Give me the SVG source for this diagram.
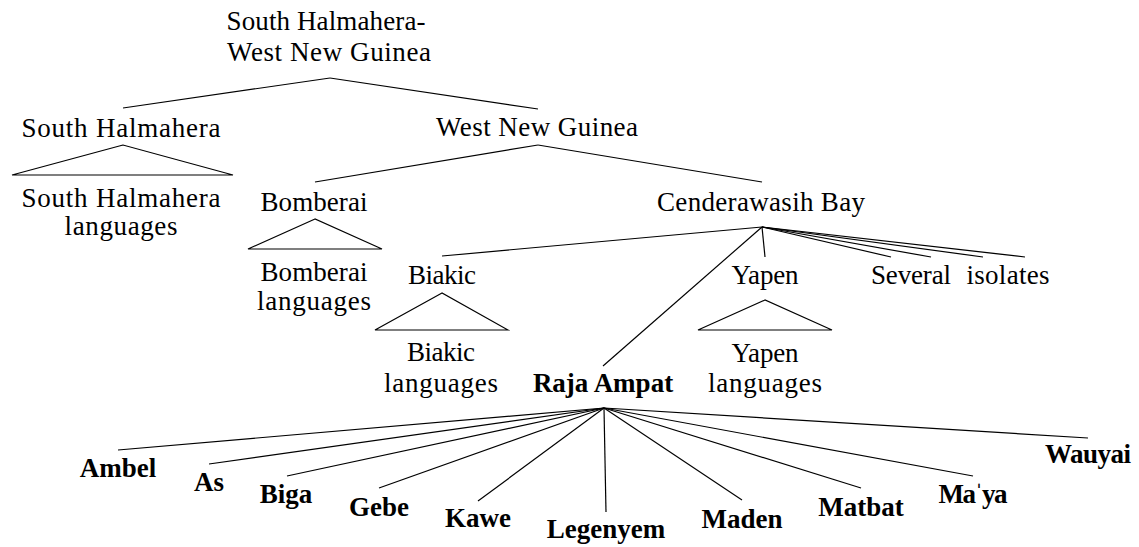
<svg xmlns="http://www.w3.org/2000/svg" width="1139" height="547" viewBox="0 0 1139 547">
<style>
text{font-family:"Liberation Serif","Times New Roman",serif;font-size:27px;fill:#000;text-anchor:middle}
.b{font-weight:bold}
line,polygon{stroke:#000;stroke-width:1.2;fill:none}
</style>
<rect width="1139" height="547" fill="#fff"/>
<g id="connectors">
<line x1="330" y1="78" x2="123" y2="108"/>
<line x1="330" y1="78" x2="538" y2="109"/>
<line x1="538" y1="145" x2="315" y2="182"/>
<line x1="538" y1="145" x2="762" y2="182"/>
<line x1="762" y1="227" x2="442" y2="256"/>
<line x1="762" y1="227" x2="603" y2="366"/>
<line x1="762" y1="227" x2="765" y2="257"/>
<line x1="762" y1="227" x2="891" y2="257"/>
<line x1="762" y1="227" x2="931" y2="257"/>
<line x1="762" y1="227" x2="983" y2="257"/>
<line x1="762" y1="227" x2="1025" y2="257"/>
<line x1="604" y1="408" x2="118" y2="450"/>
<line x1="604" y1="408" x2="209" y2="464"/>
<line x1="604" y1="408" x2="287" y2="476"/>
<line x1="604" y1="408" x2="379" y2="488"/>
<line x1="604" y1="408" x2="478" y2="501"/>
<line x1="604" y1="408" x2="606" y2="512"/>
<line x1="604" y1="408" x2="742" y2="500"/>
<line x1="604" y1="408" x2="861" y2="488"/>
<line x1="604" y1="408" x2="973" y2="476"/>
<line x1="604" y1="408" x2="1088" y2="438"/>
</g>
<g id="root"><text x="326" y="30" textLength="199" lengthAdjust="spacing">South Halmahera-</text><text x="329" y="61" textLength="204" lengthAdjust="spacing">West New Guinea</text></g>
<g id="south-halmahera"><text x="121" y="137" textLength="199" lengthAdjust="spacing">South Halmahera</text></g>
<g id="south-halmahera-languages"><polygon points="123,145 12,175 233,175"/><text x="121" y="207" textLength="199" lengthAdjust="spacing">South Halmahera</text><text x="121" y="235" textLength="113" lengthAdjust="spacing">languages</text></g>
<g id="west-new-guinea"><text x="537" y="136" textLength="202" lengthAdjust="spacing">West New Guinea</text></g>
<g id="bomberai"><text x="314" y="211" textLength="107" lengthAdjust="spacing">Bomberai</text></g>
<g id="bomberai-languages"><polygon points="315,219 248,249 382,249"/><text x="314" y="281" textLength="107" lengthAdjust="spacing">Bomberai</text><text x="314" y="310" textLength="114" lengthAdjust="spacing">languages</text></g>
<g id="cenderawasih-bay"><text x="761" y="211" textLength="208" lengthAdjust="spacing">Cenderawasih Bay</text></g>
<g id="biakic"><text x="442" y="284" textLength="68" lengthAdjust="spacing">Biakic</text></g>
<g id="biakic-languages"><polygon points="442,293 375,330 508,330"/><text x="441" y="361" textLength="68" lengthAdjust="spacing">Biakic</text><text x="441" y="392" textLength="114" lengthAdjust="spacing">languages</text></g>
<g id="yapen"><text x="765" y="284" textLength="67" lengthAdjust="spacing">Yapen</text></g>
<g id="yapen-languages"><polygon points="765,300 698,330 832,330"/><text x="765" y="362" textLength="67" lengthAdjust="spacing">Yapen</text><text x="765" y="392" textLength="114" lengthAdjust="spacing">languages</text></g>
<g id="several"><text x="911" y="284" textLength="80" lengthAdjust="spacing">Several</text></g>
<g id="isolates"><text x="1008" y="284" textLength="83" lengthAdjust="spacing">isolates</text></g>
<g id="raja-ampat"><text class="b" x="603" y="392">Raja Ampat</text></g>
<g id="ambel"><text class="b" x="118" y="477">Ambel</text></g>
<g id="as"><text class="b" x="209" y="491">As</text></g>
<g id="biga"><text class="b" x="286" y="503">Biga</text></g>
<g id="gebe"><text class="b" x="379" y="516">Gebe</text></g>
<g id="kawe"><text class="b" x="478" y="527">Kawe</text></g>
<g id="legenyem"><text class="b" x="606" y="538">Legenyem</text></g>
<g id="maden"><text class="b" x="742" y="528">Maden</text></g>
<g id="matbat"><text class="b" x="861" y="516">Matbat</text></g>
<g id="maya"><text class="b" x="973" y="503" textLength="69" lengthAdjust="spacing">Maˈya</text></g>
<g id="wauyai"><text class="b" x="1088" y="463" textLength="86" lengthAdjust="spacing">Wauyai</text></g>
</svg>
